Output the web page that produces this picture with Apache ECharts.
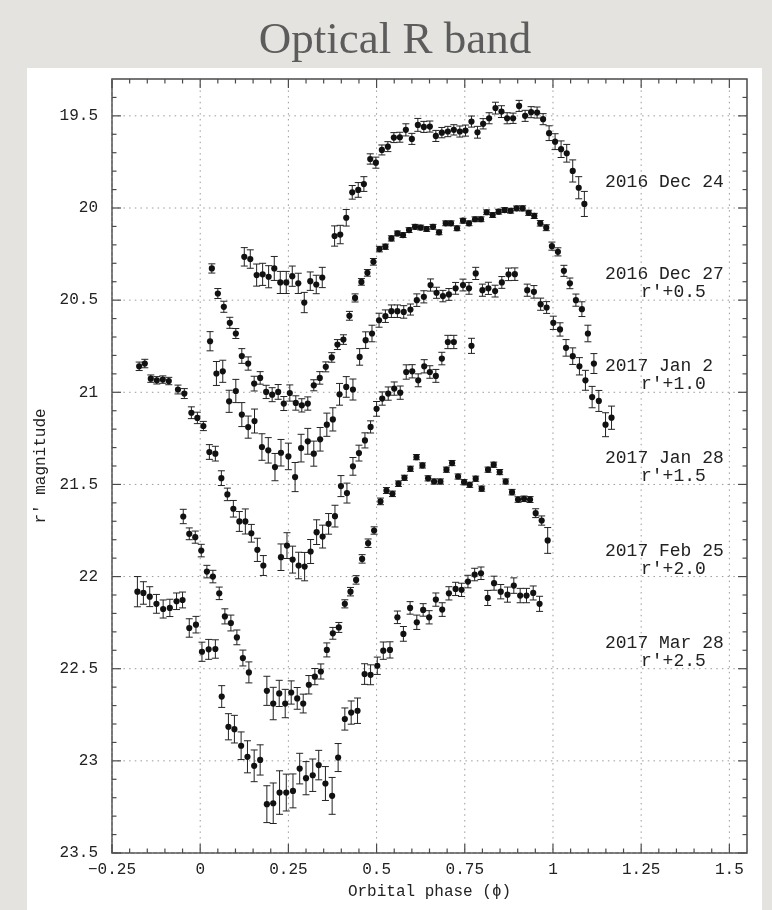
<!DOCTYPE html>
<html>
<head>
<meta charset="utf-8">
<script src="https://cdn.jsdelivr.net/npm/echarts@6/dist/echarts.min.js"></script>
<style>
  html, body { margin: 0; padding: 0; background: #e4e3df; }
  #panel { position: absolute; left: 27px; top: 68px; width: 735px; height: 842px; background: #ffffff; }
  #chart { position: absolute; left: 0; top: 0; width: 772px; height: 910px; }
</style>
</head>
<body>
<div id="panel"></div>
<div id="chart"></div>
<script>
// Light curves folded on orbital phase; each night is shifted by a constant in r'.

const dec24Phase = [0.125,0.142,0.160,0.177,0.194,0.210,0.227,0.244,0.261,0.278,0.295,0.312,0.329,0.346,0.381,0.397,0.414,0.431,0.448,0.464,0.482,0.498,0.515,0.532,0.549,0.566,0.583,0.600,0.617,0.634,0.651,0.668,0.685,0.702,0.719,0.736,0.752,0.769,0.786,0.802,0.819,0.837,0.854,0.870,0.887,0.904,0.921,0.938,0.955,0.972,0.989,1.006,1.023,1.039,1.056,1.073,1.089];
const dec24Mag = [20.265,20.277,20.364,20.360,20.373,20.328,20.404,20.404,20.370,20.409,20.513,20.397,20.415,20.377,20.152,20.144,20.053,19.915,19.902,19.870,19.734,19.754,19.685,19.667,19.618,19.616,19.576,19.625,19.549,19.560,19.558,19.609,19.591,19.585,19.576,19.585,19.580,19.531,19.589,19.543,19.513,19.458,19.477,19.513,19.513,19.446,19.500,19.480,19.482,19.518,19.594,19.640,19.681,19.703,19.799,19.890,19.978];
const dec24Err = [0.05,0.05,0.06,0.06,0.06,0.065,0.06,0.06,0.055,0.055,0.055,0.05,0.05,0.055,0.055,0.05,0.045,0.037,0.04,0.04,0.028,0.03,0.027,0.027,0.027,0.027,0.033,0.03,0.035,0.03,0.03,0.03,0.028,0.028,0.028,0.03,0.03,0.03,0.032,0.028,0.03,0.032,0.032,0.03,0.028,0.03,0.03,0.03,0.03,0.03,0.04,0.043,0.045,0.048,0.06,0.06,0.068];

const dec27Phase = [0.033,0.050,0.067,0.084,0.101,0.118,0.136,0.153,0.170,0.187,0.204,0.221,0.237,0.254,0.271,0.288,0.305,0.322,0.339,0.356,0.373,0.389,0.406,0.423,0.439,0.457,0.474,0.491,0.508,0.525,0.542,0.559,0.575,0.592,0.609,0.625,0.642,0.660,0.677,0.696,0.711,0.728,0.745,0.762,0.779,0.796,0.812,0.829,0.846,0.863,0.880,0.897,0.914,0.931,0.947,0.964,0.981,0.997,1.014,1.031,1.048,1.065,1.082,1.099,1.116];
const dec27Mag = [20.328,20.464,20.536,20.623,20.681,20.803,20.844,20.953,20.922,20.998,21.013,20.998,21.061,21.004,21.058,21.071,21.061,20.962,20.922,20.862,20.811,20.741,20.714,20.585,20.488,20.401,20.352,20.292,20.223,20.210,20.165,20.138,20.147,20.120,20.102,20.106,20.114,20.102,20.132,20.083,20.083,20.110,20.069,20.083,20.061,20.061,20.023,20.038,20.020,20.011,20.015,20.002,20.002,20.026,20.043,20.083,20.107,20.207,20.238,20.341,20.409,20.500,20.549,20.681,20.844];
const dec27Err = [0.025,0.027,0.03,0.03,0.027,0.04,0.036,0.04,0.034,0.036,0.038,0.04,0.038,0.044,0.039,0.036,0.036,0.03,0.034,0.027,0.026,0.027,0.026,0.024,0.022,0.018,0.018,0.018,0.015,0.014,0.014,0.013,0.013,0.013,0.013,0.013,0.013,0.013,0.013,0.013,0.013,0.013,0.013,0.013,0.013,0.013,0.013,0.013,0.013,0.013,0.013,0.013,0.014,0.014,0.014,0.015,0.016,0.022,0.022,0.03,0.029,0.033,0.04,0.045,0.054];

const jan2Phase = [0.028,0.046,0.064,0.082,0.101,0.118,0.136,0.154,0.175,0.193,0.212,0.229,0.250,0.269,0.286,0.305,0.322,0.340,0.359,0.376,0.395,0.414,0.433,0.452,0.469,0.487,0.507,0.525,0.542,0.559,0.577,0.596,0.614,0.634,0.653,0.670,0.688,0.705,0.724,0.745,0.762,0.781,0.800,0.817,0.836,0.855,0.874,0.892,0.927,0.946,0.965,0.982,1.001,1.020,1.037,1.056,1.075,1.092,1.111,1.130,1.149,1.166];
const jan2Mag = [20.723,20.898,20.886,21.049,20.993,21.121,21.189,21.156,21.297,21.315,21.406,21.328,21.348,21.460,21.303,21.266,21.333,21.255,21.176,21.147,21.011,20.971,20.985,20.808,20.717,20.681,20.609,20.587,20.560,20.560,20.564,20.551,20.500,20.482,20.418,20.460,20.478,20.469,20.436,20.418,20.436,20.355,20.446,20.436,20.451,20.404,20.360,20.359,20.446,20.455,20.522,20.540,20.623,20.659,20.759,20.804,20.859,20.935,21.026,21.047,21.176,21.138];
const jan2Err = [0.052,0.065,0.06,0.06,0.063,0.065,0.06,0.065,0.072,0.069,0.074,0.072,0.072,0.079,0.075,0.07,0.068,0.064,0.063,0.063,0.059,0.056,0.057,0.045,0.045,0.045,0.038,0.034,0.034,0.034,0.034,0.03,0.034,0.033,0.033,0.03,0.031,0.032,0.032,0.032,0.032,0.033,0.033,0.033,0.032,0.032,0.034,0.034,0.033,0.034,0.033,0.032,0.036,0.036,0.045,0.045,0.047,0.054,0.058,0.057,0.065,0.063];

const jan28Phase = [-0.173,-0.157,-0.140,-0.123,-0.106,-0.089,-0.063,-0.045,-0.025,-0.008,0.009,0.026,0.043,0.060,0.077,0.094,0.111,0.128,0.145,0.162,0.179,0.229,0.246,0.262,0.279,0.296,0.313,0.330,0.347,0.364,0.382,0.399,0.416,0.433,0.450,0.467,0.483,0.500,0.516,0.533,0.550,0.567,0.584,0.601,0.618,0.635,0.651,0.668,0.685,0.702,0.719,0.769];
const jan28Mag = [20.859,20.844,20.926,20.935,20.931,20.939,20.985,21.007,21.111,21.139,21.183,21.324,21.333,21.466,21.554,21.632,21.701,21.701,21.765,21.855,21.940,21.895,21.832,21.908,21.940,21.946,21.864,21.759,21.783,21.714,21.672,21.509,21.547,21.402,21.330,21.261,21.188,21.090,21.034,21.007,20.980,21.002,20.890,20.886,20.935,20.859,20.890,20.911,20.817,20.727,20.727,20.748];
const jan28Err = [0.023,0.023,0.02,0.02,0.02,0.02,0.024,0.027,0.032,0.031,0.025,0.04,0.04,0.04,0.034,0.045,0.054,0.068,0.048,0.063,0.054,0.072,0.07,0.073,0.072,0.077,0.065,0.067,0.062,0.056,0.059,0.057,0.054,0.048,0.043,0.041,0.033,0.04,0.036,0.036,0.036,0.036,0.039,0.036,0.035,0.036,0.034,0.035,0.034,0.036,0.036,0.041];

const feb25Phase = [-0.048,-0.031,-0.014,0.003,0.019,0.036,0.054,0.070,0.087,0.104,0.121,0.138,0.189,0.207,0.224,0.241,0.258,0.275,0.292,0.308,0.325,0.342,0.359,0.376,0.393,0.410,0.426,0.442,0.459,0.476,0.493,0.511,0.528,0.545,0.562,0.579,0.596,0.613,0.630,0.646,0.663,0.681,0.698,0.714,0.731,0.748,0.764,0.781,0.798,0.816,0.832,0.849,0.866,0.884,0.901,0.918,0.935,0.951,0.968,0.985];
const feb25Mag = [21.674,21.768,21.786,21.859,21.973,22.000,22.091,22.216,22.252,22.330,22.442,22.520,22.620,22.689,22.634,22.689,22.629,22.661,22.689,22.587,22.543,22.515,22.398,22.308,22.276,22.148,22.082,22.018,21.904,21.819,21.750,21.592,21.533,21.551,21.496,21.464,21.415,21.352,21.397,21.467,21.484,21.484,21.420,21.384,21.457,21.488,21.502,21.469,21.523,21.420,21.393,21.433,21.484,21.542,21.582,21.578,21.582,21.656,21.696,21.804];
const feb25Err = [0.039,0.032,0.033,0.034,0.034,0.034,0.034,0.041,0.043,0.04,0.043,0.057,0.079,0.088,0.071,0.077,0.063,0.059,0.051,0.05,0.044,0.041,0.038,0.032,0.027,0.022,0.023,0.023,0.023,0.023,0.02,0.018,0.016,0.015,0.015,0.014,0.014,0.014,0.014,0.014,0.014,0.014,0.014,0.014,0.014,0.014,0.014,0.014,0.014,0.014,0.014,0.014,0.014,0.015,0.015,0.015,0.016,0.024,0.025,0.07];

const mar28Phase = [-0.178,-0.161,-0.143,-0.124,-0.105,-0.086,-0.067,-0.050,-0.031,-0.012,0.005,0.024,0.043,0.061,0.080,0.097,0.116,0.134,0.153,0.170,0.189,0.207,0.225,0.244,0.263,0.282,0.300,0.319,0.336,0.355,0.374,0.391,0.410,0.428,0.446,0.466,0.483,0.502,0.519,0.538,0.559,0.576,0.595,0.614,0.632,0.649,0.668,0.686,0.705,0.724,0.741,0.759,0.778,0.796,0.815,0.833,0.852,0.871,0.889,0.907,0.925,0.944,0.962];
const mar28Mag = [22.082,22.089,22.109,22.148,22.176,22.170,22.134,22.127,22.279,22.261,22.408,22.395,22.393,22.651,22.815,22.828,22.918,22.978,23.027,22.995,23.235,23.230,23.172,23.172,23.163,23.042,23.094,23.078,23.023,23.123,23.190,22.982,22.773,22.738,22.728,22.529,22.533,22.484,22.402,22.398,22.221,22.311,22.170,22.248,22.181,22.221,22.125,22.179,22.091,22.067,22.072,22.027,21.989,21.982,22.116,22.036,22.082,22.098,22.049,22.103,22.103,22.089,22.148];
const mar28Err = [0.082,0.061,0.054,0.051,0.049,0.047,0.045,0.043,0.05,0.045,0.052,0.054,0.05,0.059,0.071,0.075,0.075,0.087,0.086,0.082,0.1,0.11,0.118,0.1,0.092,0.083,0.09,0.088,0.08,0.092,0.1,0.076,0.06,0.063,0.069,0.056,0.054,0.047,0.047,0.044,0.034,0.04,0.034,0.039,0.034,0.036,0.036,0.037,0.036,0.036,0.036,0.034,0.034,0.034,0.041,0.038,0.039,0.041,0.042,0.039,0.039,0.038,0.041];

const nightNames = ['2016 Dec 24', '2016 Dec 27', '2017 Jan 2', '2017 Jan 28', '2017 Feb 25', '2017 Mar 28'];
const nightShifts = ['', 'r\u2032+0.5', 'r\u2032+1.0', 'r\u2032+1.5', 'r\u2032+2.0', 'r\u2032+2.5'];

const xTickValues = [-0.25, 0, 0.25, 0.5, 0.75, 1, 1.25, 1.5];
const xTickLabels = ['\u22120.25', '0', '0.25', '0.5', '0.75', '1', '1.25', '1.5'];
const yTickValues = [19.5, 20, 20.5, 21, 21.5, 22, 22.5, 23, 23.5];
const yTickLabels = ['19.5', '20', '20.5', '21', '21.5', '22', '22.5', '23', '23.5'];

const X_MIN = -0.25, X_MAX = 1.55, Y_MIN = 19.3, Y_MAX = 23.5;

// minor ticks: 0.05 in phase, 0.1 in magnitude
const xMinor = [];
for (let i = -25; i <= 150; i += 5) if (i % 25 !== 0) xMinor.push(i / 100);
const yMinor = [];
for (let i = 194; i <= 235; i++) if (i % 5 !== 0) yMinor.push(i / 10);

const MONO = "'Liberation Mono', 'DejaVu Sans Mono', monospace";
const INK = '#222';
const FRAME = '#4a4a4a';

function zip(p, m, e) { return p.map((v, i) => [v, m[i], e[i]]); }
const nights = [
  zip(dec24Phase, dec24Mag, dec24Err),
  zip(dec27Phase, dec27Mag, dec27Err),
  zip(jan2Phase, jan2Mag, jan2Err),
  zip(jan28Phase, jan28Mag, jan28Err),
  zip(feb25Phase, feb25Mag, feb25Err),
  zip(mar28Phase, mar28Mag, mar28Err)
];

// point with symmetric error bar and end caps
function renderPoint(params, api) {
  const x = api.value(0), y = api.value(1), e = api.value(2);
  const c = api.coord([x, y]);
  const hi = api.coord([x, y - e]);
  const lo = api.coord([x, y + e]);
  const cap = 3.5;
  const st = { stroke: INK, lineWidth: 1 };
  return {
    type: 'group',
    children: [
      { type: 'line', shape: { x1: c[0], y1: hi[1], x2: c[0], y2: lo[1] }, style: st },
      { type: 'line', shape: { x1: c[0] - cap, y1: hi[1], x2: c[0] + cap, y2: hi[1] }, style: st },
      { type: 'line', shape: { x1: c[0] - cap, y1: lo[1], x2: c[0] + cap, y2: lo[1] }, style: st },
      { type: 'circle', shape: { cx: c[0], cy: c[1], r: 3.1 }, style: { fill: '#111' } }
    ]
  };
}

// dotted grid at major ticks, inward ticks on all four sides
function renderFrame(params, api) {
  const kids = [];
  const tick = { stroke: FRAME, lineWidth: 1.2 };
  const dots = { stroke: '#9a9a9a', lineWidth: 1, lineDash: [1.5, 4.2] };
  const MAJ = 9, MIN = 4.5;
  xTickValues.forEach(v => {
    const t = api.coord([v, Y_MIN]), b = api.coord([v, Y_MAX]);
    kids.push({ type: 'line', shape: { x1: t[0], y1: t[1], x2: b[0], y2: b[1] }, style: dots });
  });
  yTickValues.forEach(v => {
    const l = api.coord([X_MIN, v]), r = api.coord([X_MAX, v]);
    kids.push({ type: 'line', shape: { x1: l[0], y1: l[1], x2: r[0], y2: r[1] }, style: dots });
  });
  const xt = (list, len) => list.forEach(v => {
    const t = api.coord([v, Y_MIN]), b = api.coord([v, Y_MAX]);
    kids.push({ type: 'line', shape: { x1: b[0], y1: b[1], x2: b[0], y2: b[1] - len }, style: tick });
    kids.push({ type: 'line', shape: { x1: t[0], y1: t[1], x2: t[0], y2: t[1] + len }, style: tick });
  });
  const yt = (list, len) => list.forEach(v => {
    const l = api.coord([X_MIN, v]), r = api.coord([X_MAX, v]);
    kids.push({ type: 'line', shape: { x1: l[0], y1: l[1], x2: l[0] + len, y2: l[1] }, style: tick });
    kids.push({ type: 'line', shape: { x1: r[0], y1: r[1], x2: r[0] - len, y2: r[1] }, style: tick });
  });
  xt(xTickValues, MAJ); xt(xMinor, MIN);
  yt(yTickValues, MAJ); yt(yMinor, MIN);
  return { type: 'group', children: kids };
}

const chart = echarts.init(document.getElementById('chart'), null, { renderer: 'canvas' });

const series = [{
  type: 'custom',
  name: 'frame',
  renderItem: renderFrame,
  data: [[0.5, 21]],
  encode: { x: 0, y: 1 },
  silent: true,
  z: 1
}];
nights.forEach((d, i) => {
  series.push({
    type: 'custom',
    name: nightNames[i],
    renderItem: renderPoint,
    data: d,
    encode: { x: 0, y: 1 },
    dimensions: ['phase', 'mag', 'err'],
    z: 3
  });
});

// night labels with their magnitude shifts, stacked down the right side
const graphics = [{
  type: 'text',
  x: 395, y: 41,
  style: {
    text: 'Optical R band',
    font: "45px 'Liberation Serif', 'DejaVu Serif', serif",
    fill: '#5c5c5c',
    textAlign: 'center',
    textVerticalAlign: 'middle'
  }
}];
nightNames.forEach((name, i) => {
  graphics.push({
    type: 'text', x: 605, y: 182 + i * 92.2,
    style: { text: name, font: '18px ' + MONO, fill: INK, textAlign: 'left', textVerticalAlign: 'middle' }
  });
  if (nightShifts[i]) {
    graphics.push({
      type: 'text', x: 641, y: 200 + i * 92.2,
      style: { text: nightShifts[i], font: '18px ' + MONO, fill: INK, textAlign: 'left', textVerticalAlign: 'middle' }
    });
  }
});

chart.setOption({
  animation: false,
  backgroundColor: 'transparent',
  grid: {
    left: 112, right: 25, top: 79, bottom: 57,
    show: true, borderColor: FRAME, borderWidth: 1.5, backgroundColor: 'transparent'
  },
  xAxis: {
    type: 'value', min: X_MIN, max: X_MAX,
    axisLine: { show: false }, axisTick: { show: false }, splitLine: { show: false },
    axisLabel: {
      customValues: xTickValues,
      formatter: v => xTickLabels[xTickValues.findIndex(t => Math.abs(t - v) < 1e-6)] || '',
      fontFamily: MONO, fontSize: 16, color: INK, margin: 9
    },
    name: 'Orbital phase (\u03d5)', nameLocation: 'middle', nameGap: 31,
    nameTextStyle: { fontFamily: MONO, fontSize: 16, color: INK }
  },
  yAxis: {
    type: 'value', min: Y_MIN, max: Y_MAX, inverse: true,
    axisLine: { show: false }, axisTick: { show: false }, splitLine: { show: false },
    axisLabel: {
      customValues: yTickValues,
      formatter: v => yTickLabels[yTickValues.findIndex(t => Math.abs(t - v) < 1e-6)] || '',
      fontFamily: MONO, fontSize: 16, color: INK, margin: 14
    },
    name: 'r\u2032 magnitude', nameLocation: 'middle', nameGap: 57,
    nameTextStyle: { fontFamily: MONO, fontSize: 16, color: INK }
  },
  graphic: graphics,
  series: series
});
</script>
</body>
</html>
